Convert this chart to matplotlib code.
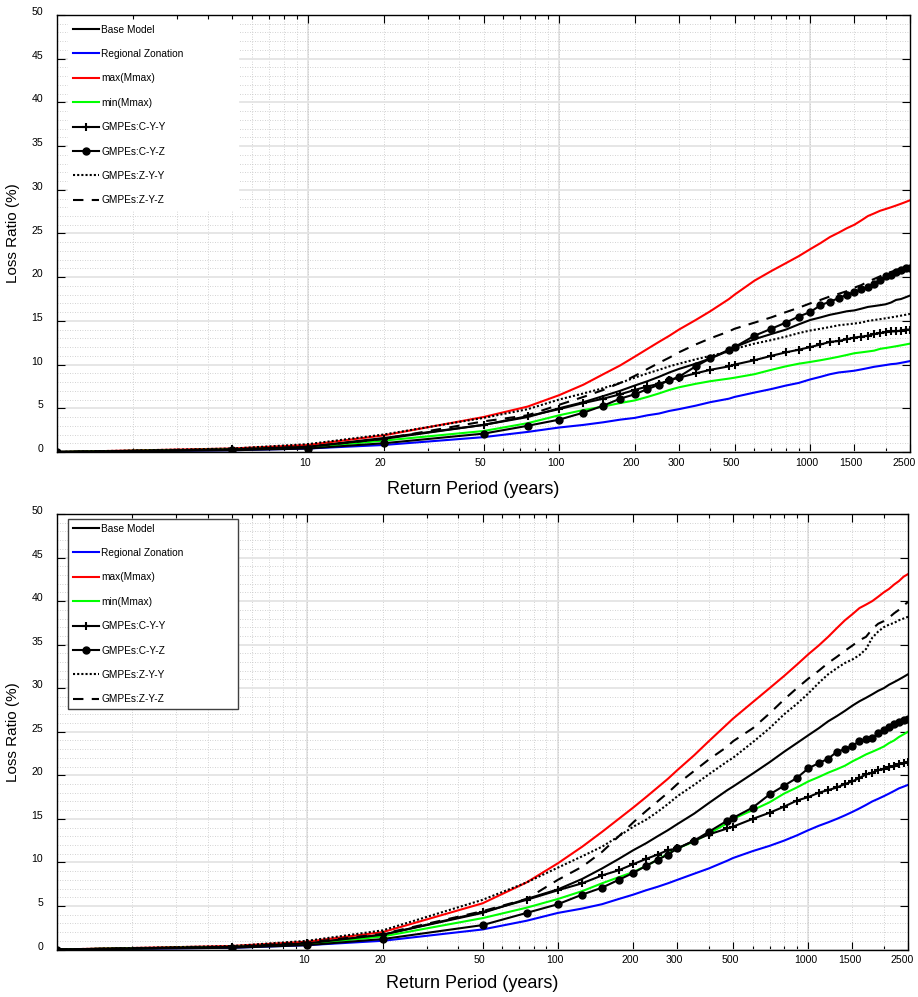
import matplotlib
matplotlib.use('Agg')
import matplotlib.pyplot as plt
import matplotlib.ticker as mticker
import matplotlib.transforms as mtransforms

plt.rcParams['font.family'] = ['Liberation Sans', 'DejaVu Sans']

# ---------------- data ----------------
return_periods = [1, 5, 10, 20, 50, 75, 100, 125, 150, 175, 200, 225, 250, 275, 300,
                  350, 400, 475, 500, 600, 700, 800, 900, 1000, 1100, 1200, 1300, 1400,
                  1500, 1600, 1700, 1800, 1900, 2000, 2100, 2200, 2300, 2400, 2500]

series_labels = ['Base Model', 'Regional Zonation', 'max(Mmax)', 'min(Mmax)',
                 'GMPEs:C-Y-Y', 'GMPEs:C-Y-Z', 'GMPEs:Z-Y-Y', 'GMPEs:Z-Y-Z']

x_tick_values = [10, 20, 50, 100, 200, 300, 500, 1000, 1500, 2500]
x_tick_labels = ['10', '20', '50', '100', '200', '300', '500', '1000', '1500', '2500']

# top panel
top_base = [0, 0.3, 0.6, 1.6, 3.1, 4.0, 5.0, 5.7, 6.4, 7.0, 7.6, 8.1, 8.6, 9.1, 9.5,
            10.1, 10.7, 11.6, 12.0, 12.9, 13.5, 14.0, 14.6, 15.1, 15.4, 15.7, 15.9, 16.1,
            16.2, 16.4, 16.6, 16.7, 16.8, 16.9, 17.1, 17.4, 17.5, 17.7, 17.9]
top_regional = [0, 0.2, 0.4, 0.8, 1.7, 2.3, 2.8, 3.1, 3.4, 3.7, 3.9, 4.2, 4.4, 4.7, 4.9,
                5.3, 5.7, 6.1, 6.3, 6.8, 7.2, 7.6, 7.9, 8.3, 8.6, 8.9, 9.1, 9.2,
                9.3, 9.45, 9.6, 9.75, 9.85, 9.95, 10.05, 10.1, 10.2, 10.3, 10.4]
top_max = [0, 0.4, 0.8, 1.9, 4.0, 5.2, 6.5, 7.7, 8.9, 9.9, 10.9, 11.8, 12.6, 13.3, 14.0,
           15.1, 16.1, 17.5, 18.0, 19.6, 20.7, 21.6, 22.4, 23.2, 23.9, 24.6, 25.1, 25.6,
           26.0, 26.5, 27.0, 27.3, 27.6, 27.8, 28.0, 28.2, 28.4, 28.6, 28.8]
top_min = [0, 0.3, 0.5, 1.3, 2.4, 3.3, 4.2, 4.8, 5.2, 5.6, 5.9, 6.3, 6.7, 7.1, 7.4,
           7.8, 8.1, 8.4, 8.5, 8.9, 9.4, 9.8, 10.1, 10.3, 10.5, 10.7, 10.9, 11.1,
           11.3, 11.4, 11.5, 11.6, 11.8, 11.9, 12.0, 12.1, 12.2, 12.3, 12.4]
top_cyy = [0, 0.3, 0.6, 1.5, 3.1, 4.1, 4.9, 5.6, 6.1, 6.6, 7.1, 7.5, 7.8, 8.2, 8.5,
           9.0, 9.4, 9.8, 10.0, 10.5, 11.0, 11.4, 11.7, 12.0, 12.3, 12.6, 12.7, 12.9,
           13.1, 13.2, 13.3, 13.5, 13.6, 13.7, 13.8, 13.8, 13.9, 14.0, 14.0]
top_cyz = [0, 0.2, 0.4, 1.0, 2.1, 3.0, 3.7, 4.5, 5.3, 6.1, 6.6, 7.2, 7.7, 8.2, 8.6,
           9.8, 10.7, 11.7, 12.0, 13.3, 14.1, 14.8, 15.5, 16.0, 16.8, 17.2, 17.6, 18.0,
           18.3, 18.6, 18.9, 19.2, 19.7, 20.1, 20.3, 20.6, 20.8, 21.0, 21.1]
top_zyy = [0, 0.4, 0.9, 2.0, 3.9, 4.9, 6.0, 6.7, 7.3, 7.9, 8.5, 9.0, 9.4, 9.8, 10.1,
           10.6, 11.0, 11.5, 11.8, 12.4, 12.8, 13.2, 13.6, 13.9, 14.1, 14.3, 14.5, 14.6,
           14.7, 14.8, 15.0, 15.1, 15.2, 15.3, 15.4, 15.5, 15.6, 15.7, 15.8]
top_zyz = [0, 0.3, 0.6, 1.5, 3.5, 4.2, 5.4, 6.3, 7.1, 7.9, 8.7, 9.5, 10.2, 10.8, 11.4,
           12.3, 13.0, 13.8, 14.1, 14.8, 15.4, 16.0, 16.5, 17.0, 17.4, 17.8, 18.1, 18.4,
           18.8, 19.1, 19.5, 19.8, 20.1, 20.4, 20.6, 20.8, 21.0, 21.1, 21.2]

# bottom panel
bot_base = [0, 0.3, 0.7, 1.7, 4.2, 5.8, 6.9, 8.1, 9.3, 10.4, 11.4, 12.2, 13.0, 13.7, 14.4,
            15.6, 16.8, 18.3, 18.7, 20.2, 21.5, 22.7, 23.7, 24.6, 25.4, 26.2, 26.8, 27.4,
            28.0, 28.5, 28.9, 29.3, 29.7, 30.0, 30.4, 30.7, 31.0, 31.3, 31.6]
bot_regional = [0, 0.2, 0.5, 1.0, 2.3, 3.3, 4.2, 4.7, 5.2, 5.8, 6.3, 6.8, 7.2, 7.6, 8.0,
                8.7, 9.3, 10.2, 10.5, 11.3, 11.9, 12.5, 13.1, 13.7, 14.2, 14.6, 15.0, 15.4,
                15.8, 16.2, 16.6, 17.0, 17.3, 17.6, 17.9, 18.2, 18.5, 18.7, 18.9]
bot_max = [0, 0.4, 0.9, 2.0, 5.3, 7.7, 9.9, 11.8, 13.5, 15.0, 16.3, 17.5, 18.6, 19.6, 20.6,
           22.3, 23.9, 25.9, 26.5, 28.4, 30.0, 31.4, 32.7, 33.9, 34.9, 35.9, 36.9, 37.8,
           38.5, 39.2, 39.6, 40.0, 40.5, 41.0, 41.4, 41.9, 42.3, 42.8, 43.1]
bot_min = [0, 0.3, 0.6, 1.5, 3.6, 4.8, 5.8, 6.7, 7.6, 8.3, 8.9, 9.6, 10.3, 11.0, 11.6,
           12.4, 13.3, 14.5, 15.0, 16.0, 16.9, 17.9, 18.6, 19.3, 19.8, 20.3, 20.7, 21.1,
           21.6, 22.0, 22.4, 22.7, 23.0, 23.3, 23.7, 24.0, 24.4, 24.7, 25.0]
bot_cyy = [0, 0.3, 0.7, 1.7, 4.3, 5.7, 6.8, 7.6, 8.5, 9.1, 9.8, 10.4, 10.9, 11.4, 11.6,
           12.5, 13.2, 13.9, 14.1, 15.0, 15.7, 16.4, 17.1, 17.5, 18.0, 18.3, 18.6, 19.0,
           19.3, 19.7, 20.1, 20.3, 20.6, 20.7, 20.9, 21.1, 21.3, 21.4, 21.5]
bot_cyz = [0, 0.2, 0.5, 1.2, 2.8, 4.2, 5.2, 6.3, 7.1, 8.0, 8.8, 9.6, 10.3, 10.9, 11.6,
           12.5, 13.5, 14.8, 15.1, 16.3, 17.8, 18.8, 19.7, 20.8, 21.4, 21.9, 22.7, 23.0,
           23.4, 23.9, 24.2, 24.3, 24.8, 25.2, 25.6, 25.9, 26.1, 26.3, 26.5]
bot_zyy = [0, 0.4, 1.0, 2.2, 5.7, 7.7, 9.4, 10.7, 11.8, 13.0, 14.1, 14.9, 15.8, 16.7, 17.6,
           18.9, 20.1, 21.6, 22.0, 23.8, 25.4, 27.0, 28.2, 29.4, 30.6, 31.6, 32.3, 32.9,
           33.3, 33.8, 34.5, 35.8, 36.5, 37.0, 37.3, 37.5, 37.8, 38.0, 38.2]
bot_zyz = [0, 0.3, 0.8, 1.8, 4.4, 5.8, 8.0, 9.5, 11.2, 13.0, 14.6, 15.9, 17.0, 18.0, 19.0,
           20.5, 21.8, 23.3, 23.9, 25.4, 27.1, 28.7, 30.0, 31.1, 32.0, 32.9, 33.6, 34.3,
           34.9, 35.5, 35.9, 36.8, 37.4, 37.7, 38.1, 38.6, 39.0, 39.5, 39.9]

top_series = [top_base, top_regional, top_max, top_min, top_cyy, top_cyz, top_zyy, top_zyz]
bot_series = [bot_base, bot_regional, bot_max, bot_min, bot_cyy, bot_cyz, bot_zyy, bot_zyz]

# ---------------- styles ----------------
styles = [
    dict(color='black', lw=1.5),
    dict(color='#0000ff', lw=1.5),
    dict(color='#ff0000', lw=1.5),
    dict(color='#00ff00', lw=1.5),
    dict(color='black', lw=1.5, marker='+', ms=6, mew=1.5),
    dict(color='black', lw=1.5, marker='o', ms=5),
    dict(color='black', lw=1.5, ls=(0, (1, 1))),
    dict(color='black', lw=1.5, ls=(0, (5, 4))),
]

W, H = 918, 997
fig = plt.figure(figsize=(W / 100, H / 100), dpi=100)
ax1 = fig.add_axes([57 / W, 1 - 452 / H, (910 - 57) / W, (452 - 15) / H])
ax2 = fig.add_axes([57 / W, 1 - 949.5 / H, (908 - 57) / W, (949.5 - 514) / H])

minor_x = [v * d for d in (1, 10, 100) for v in range(2, 10)] + [2000]
minor_x = [v for v in minor_x if v not in x_tick_values]


def style_axes(ax, series, legend_edge, ax_px_w, ax_px_h, xlabel_gap):
    handles = []
    for vals, lab, st in zip(series, series_labels, styles):
        h, = ax.plot(return_periods, vals, label=lab, **st)
        handles.append(h)
    ax.set_xscale('log')
    ax.set_xlim(1, 2500)
    ax.set_ylim(0, 50)
    ax.xaxis.set_major_locator(mticker.FixedLocator(x_tick_values))
    ax.xaxis.set_major_formatter(mticker.FixedFormatter(x_tick_labels))
    ax.xaxis.set_minor_locator(mticker.FixedLocator(minor_x))
    ax.xaxis.set_minor_formatter(mticker.NullFormatter())
    ax.yaxis.set_major_locator(mticker.MultipleLocator(5))
    ax.yaxis.set_minor_locator(mticker.MultipleLocator(1))
    ax.set_axisbelow(True)
    # grid
    ax.grid(which='both', axis='x', color='#c4c4c4', ls=(0, (1, 2)), lw=0.6)
    ax.grid(which='minor', axis='y', color='#c4c4c4', ls=(0, (1, 2)), lw=0.6)
    ax.grid(which='major', axis='y', color='#e4e4e4', ls='-', lw=1.3)
    for d in (10, 100, 1000):
        ax.axvline(d, color='#e4e4e4', lw=1.3, zorder=0.4)
    ax.tick_params(which='major', direction='in', top=True, right=True, length=6,
                   width=0.8, labelsize=7.6, colors='black')
    ax.tick_params(axis='y', which='major', pad=10)
    ax.tick_params(axis='x', which='major', pad=4)
    ax.tick_params(which='minor', direction='in', top=True, right=True, length=3, width=0.8)
    ax.tick_params(axis='y', which='minor', length=0)
    for sp in ax.spines.values():
        sp.set_linewidth(1.0)
        sp.set_color('black')
    ax.set_xlabel('Return Period (years)', fontsize=13)
    ax.xaxis.set_label_coords(0.488, -xlabel_gap / ax_px_h)
    ax.set_ylabel('Loss Ratio (%)', fontsize=11, labelpad=8)
    # shift tick labels slightly like the original export
    off_y = mtransforms.ScaledTranslation(0, 4 / 100, fig.dpi_scale_trans)
    for lbl in ax.get_yticklabels():
        lbl.set_transform(lbl.get_transform() + off_y)
    xlbls = ax.get_xticklabels()
    for i, lbl in enumerate(xlbls):
        dx = -3 if i < len(xlbls) - 1 else -6
        lbl.set_transform(lbl.get_transform() +
                          mtransforms.ScaledTranslation(dx / 100, 0, fig.dpi_scale_trans))
    # legend box in axes coords (wide box like the original)
    x0 = 11 / ax_px_w
    wdt = 170 / ax_px_w
    top = 1 - 5 / ax_px_h
    hgt = 192 / ax_px_h
    leg = ax.legend(handles=handles, loc='upper left',
                    bbox_to_anchor=(x0, top - hgt, wdt, hgt), mode='expand',
                    prop={'size': 7.3},
                    handlelength=2.6, handletextpad=0.25, labelspacing=1.42,
                    borderpad=0.45, borderaxespad=0, fancybox=False, framealpha=1,
                    edgecolor=legend_edge, facecolor='white')
    leg.get_frame().set_linewidth(1.0)
    return leg


style_axes(ax1, top_series, 'white', 853, 437, 29)
style_axes(ax2, bot_series, '#404040', 851, 435.5, 25)

fig.savefig('out.png', dpi=100)
